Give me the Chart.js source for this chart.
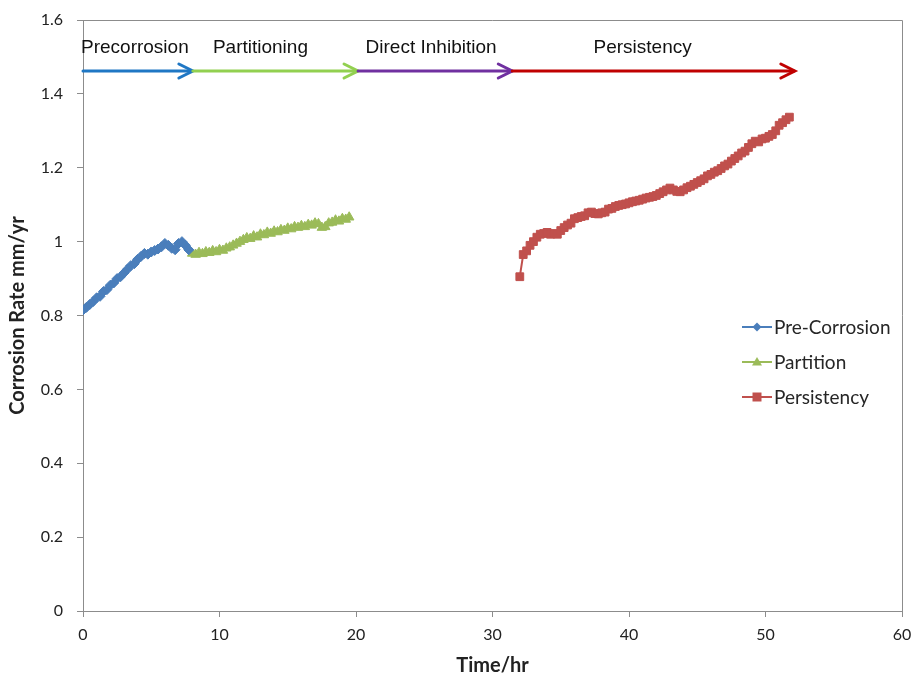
<!DOCTYPE html>
<html>
<head>
<meta charset="utf-8">
<script src="https://cdn.jsdelivr.net/npm/chart.js@4.4.0/dist/chart.umd.min.js"></script>
<style>
  html, body { margin: 0; padding: 0; background: #fff; }
  #wrap { width: 914px; height: 682px; position: relative; }
</style>
</head>
<body>
<div id="wrap"><canvas id="chart"></canvas></div>
<script>
// Pre-corrosion stage (blue diamonds)
const preTime = [0, 0.25, 0.5, 0.75, 1, 1.25, 1.5, 1.75, 2, 2.25, 2.5, 2.75, 3, 3.25, 3.5, 3.75,
    4, 4.25, 4.5, 4.75, 5, 5.25, 5.5, 5.75, 6, 6.25, 6.5, 6.75, 7, 7.25, 7.5, 7.75];
const preRate = [0.815, 0.822, 0.83, 0.838, 0.848, 0.852, 0.865, 0.87, 0.882, 0.888, 0.9, 0.905,
    0.915, 0.925, 0.935, 0.94, 0.952, 0.96, 0.968, 0.966, 0.972, 0.976, 0.98, 0.986, 0.995, 0.99,
    0.982, 0.978, 0.995, 1.0, 0.99, 0.978];

// Partition stage (green triangles)
const partTime = [8, 8.25, 8.5, 8.75, 9, 9.25, 9.5, 9.75, 10, 10.25, 10.5, 10.75, 11, 11.25, 11.5,
    11.75, 12, 12.25, 12.5, 12.75, 13, 13.25, 13.5, 13.75, 14, 14.25, 14.5, 14.75, 15, 15.25, 15.5,
    15.75, 16, 16.25, 16.5, 16.75, 17, 17.25, 17.5, 17.75, 18, 18.25, 18.5, 18.75, 19, 19.25, 19.5];
const partRate = [0.968, 0.965, 0.97, 0.967, 0.972, 0.97, 0.975, 0.972, 0.978, 0.976, 0.982, 0.985,
    0.99, 0.995, 1.0, 1.005, 1.01, 1.008, 1.015, 1.012, 1.02, 1.018, 1.025, 1.022, 1.028, 1.026,
    1.032, 1.03, 1.036, 1.034, 1.04, 1.038, 1.043, 1.04, 1.046, 1.044, 1.05, 1.048, 1.038, 1.04,
    1.05, 1.052, 1.058, 1.055, 1.062, 1.06, 1.066];

// Persistency stage (red squares)
const persTime = [32, 32.25, 32.5, 32.75, 33, 33.25, 33.5, 33.75, 34, 34.25, 34.5, 34.75, 35, 35.25,
    35.5, 35.75, 36, 36.25, 36.5, 36.75, 37, 37.25, 37.5, 37.75, 38, 38.25, 38.5, 38.75, 39, 39.25,
    39.5, 39.75, 40, 40.25, 40.5, 40.75, 41, 41.25, 41.5, 41.75, 42, 42.25, 42.5, 42.75, 43, 43.25,
    43.5, 43.75, 44, 44.25, 44.5, 44.75, 45, 45.25, 45.5, 45.75, 46, 46.25, 46.5, 46.75, 47, 47.25,
    47.5, 47.75, 48, 48.25, 48.5, 48.75, 49, 49.25, 49.5, 49.75, 50, 50.25, 50.5, 50.75, 51, 51.25,
    51.5, 51.75];
const persRate = [0.905, 0.965, 0.975, 0.99, 1.0, 1.012, 1.02, 1.022, 1.025, 1.02, 1.022, 1.02, 1.03,
    1.038, 1.045, 1.05, 1.062, 1.065, 1.068, 1.07, 1.078, 1.08, 1.076, 1.075, 1.078, 1.08, 1.088,
    1.09, 1.095, 1.098, 1.1, 1.102, 1.105, 1.108, 1.11, 1.112, 1.115, 1.118, 1.12, 1.122, 1.125,
    1.13, 1.135, 1.14, 1.145, 1.14, 1.136, 1.135, 1.14, 1.146, 1.15, 1.155, 1.16, 1.165, 1.17,
    1.178, 1.182, 1.188, 1.192, 1.198, 1.205, 1.21, 1.218, 1.225, 1.232, 1.24, 1.245, 1.255, 1.265,
    1.272, 1.27, 1.278, 1.28, 1.285, 1.29, 1.3, 1.315, 1.322, 1.33, 1.337];

// Stage arrows along the top (in hours)
const phaseLabels = ['Precorrosion', 'Partitioning', 'Direct Inhibition', 'Persistency'];
const phaseStart = [0, 8.05, 20.15, 31.45];
const phaseEnd = [8.05, 20.15, 31.45, 52.15];
const phaseLabelAt = [3.8, 13.0, 25.5, 41.0];
const phaseLevel = 1.462;
const phaseColors = ['#1f77c4', '#92d050', '#7030a0', '#c00000'];

const yTicks = [0, 0.2, 0.4, 0.6, 0.8, 1, 1.2, 1.4, 1.6];

const seriesColors = {
    pre: '#4a7ebb',
    part: '#9bbb59',
    pers: '#c0504d'
};

const toPoints = (xs, ys) => xs.map((x, i) => ({ x: x, y: ys[i] }));

// Draws the stage arrows, plot frame and in-plot legend
const overlayPlugin = {
    id: 'overlay',
    afterDraw(chart) {
        const { ctx, chartArea: area, scales } = chart;
        const xs = scales.x, ys = scales.y;

        // frame top + right
        ctx.save();
        ctx.strokeStyle = '#8c8c8c';
        ctx.lineWidth = 1;
        ctx.beginPath();
        ctx.moveTo(area.left, area.top + 0.5);
        ctx.lineTo(area.right + 0.5, area.top + 0.5);
        ctx.lineTo(area.right + 0.5, area.bottom);
        ctx.stroke();

        // stage arrows
        const ay = ys.getPixelForValue(phaseLevel);
        phaseLabels.forEach((label, i) => {
            const x0 = xs.getPixelForValue(phaseStart[i]);
            const x1 = xs.getPixelForValue(phaseEnd[i]);
            ctx.strokeStyle = phaseColors[i];
            ctx.lineWidth = 3;
            ctx.lineCap = 'round';
            ctx.beginPath();
            ctx.moveTo(x0, ay);
            ctx.lineTo(x1 - 1, ay);
            ctx.stroke();
            ctx.beginPath();
            ctx.moveTo(x1 - 14, ay - 7);
            ctx.lineTo(x1, ay);
            ctx.lineTo(x1 - 14, ay + 7);
            ctx.stroke();

            ctx.fillStyle = '#111';
            ctx.font = '19px "Liberation Sans", Arial, sans-serif';
            ctx.textAlign = 'center';
            ctx.textBaseline = 'alphabetic';
            ctx.fillText(label, xs.getPixelForValue(phaseLabelAt[i]), ay - 18);
        });

        // legend
        const items = [
            { text: 'Pre-Corrosion', color: seriesColors.pre, shape: 'diamond' },
            { text: 'Partition', color: seriesColors.part, shape: 'triangle' },
            { text: 'Persistency', color: seriesColors.pers, shape: 'square' }
        ];
        const lx = area.right - 160;
        let ly = area.top + 307;
        ctx.font = '19px Lato, "Open Sans", sans-serif';
        ctx.textAlign = 'left';
        ctx.textBaseline = 'middle';
        items.forEach(it => {
            ctx.strokeStyle = it.color;
            ctx.fillStyle = it.color;
            ctx.lineWidth = 2;
            ctx.lineCap = 'butt';
            ctx.beginPath();
            ctx.moveTo(lx, ly);
            ctx.lineTo(lx + 30, ly);
            ctx.stroke();
            const cx = lx + 15;
            ctx.beginPath();
            if (it.shape === 'diamond') {
                ctx.moveTo(cx, ly - 4.5); ctx.lineTo(cx + 4.5, ly); ctx.lineTo(cx, ly + 4.5); ctx.lineTo(cx - 4.5, ly);
            } else if (it.shape === 'triangle') {
                ctx.moveTo(cx, ly - 5); ctx.lineTo(cx + 5, ly + 3.5); ctx.lineTo(cx - 5, ly + 3.5);
            } else {
                ctx.rect(cx - 4.5, ly - 4.5, 9, 9);
            }
            ctx.closePath();
            ctx.fill();
            ctx.fillStyle = '#262626';
            ctx.fillText(it.text, lx + 32, ly + 1);
            ly += 35;
        });
        ctx.restore();
    }
};

const axisFont = { family: 'Lato, "Open Sans", sans-serif', size: 16 };
const titleFont = { family: 'Lato, "Open Sans", sans-serif', size: 20, weight: 'bold' };

new Chart(document.getElementById('chart'), {
    type: 'scatter',
    data: {
        datasets: [
            {
                label: 'Pre-Corrosion',
                data: toPoints(preTime, preRate),
                showLine: true,
                borderColor: seriesColors.pre,
                backgroundColor: seriesColors.pre,
                borderWidth: 2,
                pointStyle: 'rectRot',
                pointRadius: 5,
                pointBorderWidth: 1
            },
            {
                label: 'Partition',
                data: toPoints(partTime, partRate),
                showLine: true,
                borderColor: seriesColors.part,
                backgroundColor: seriesColors.part,
                borderWidth: 2,
                pointStyle: 'triangle',
                pointRadius: 5.5,
                pointBorderWidth: 1
            },
            {
                label: 'Persistency',
                data: toPoints(persTime, persRate),
                showLine: true,
                borderColor: seriesColors.pers,
                backgroundColor: seriesColors.pers,
                borderWidth: 2,
                pointStyle: 'rect',
                pointRadius: 5.5,
                pointBorderWidth: 1
            }
        ]
    },
    options: {
        responsive: true,
        maintainAspectRatio: false,
        animation: false,
        layout: { padding: { top: 20, right: 12, left: 0, bottom: 0 } },
        plugins: {
            legend: { display: false },
            tooltip: { enabled: false }
        },
        scales: {
            x: {
                type: 'linear',
                min: 0,
                max: 60,
                ticks: { stepSize: 10, color: '#222', font: axisFont, padding: 8 },
                grid: { drawOnChartArea: false, tickLength: 6, color: '#8c8c8c' },
                border: { color: '#8c8c8c' },
                title: { display: true, text: 'Time/hr', color: '#222', font: titleFont, padding: { top: 2 } },
                afterFit: s => { s.height = 71; s.paddingLeft = 0; s.paddingRight = 0; }
            },
            y: {
                min: 0,
                max: 1.6,
                afterBuildTicks: s => { s.ticks = yTicks.map(v => ({ value: v })); },
                ticks: { color: '#222', font: axisFont, padding: 14, callback: v => String(v) },
                grid: { drawOnChartArea: false, tickLength: 6, color: '#8c8c8c' },
                border: { color: '#8c8c8c' },
                title: { display: true, text: 'Corrosion Rate mm/yr', color: '#222', font: titleFont, padding: { bottom: 0, top: 6 } },
                afterFit: s => { s.width = 83; s.paddingTop = 0; s.paddingBottom = 0; }
            }
        }
    },
    plugins: [overlayPlugin]
});
</script>
</body>
</html>
